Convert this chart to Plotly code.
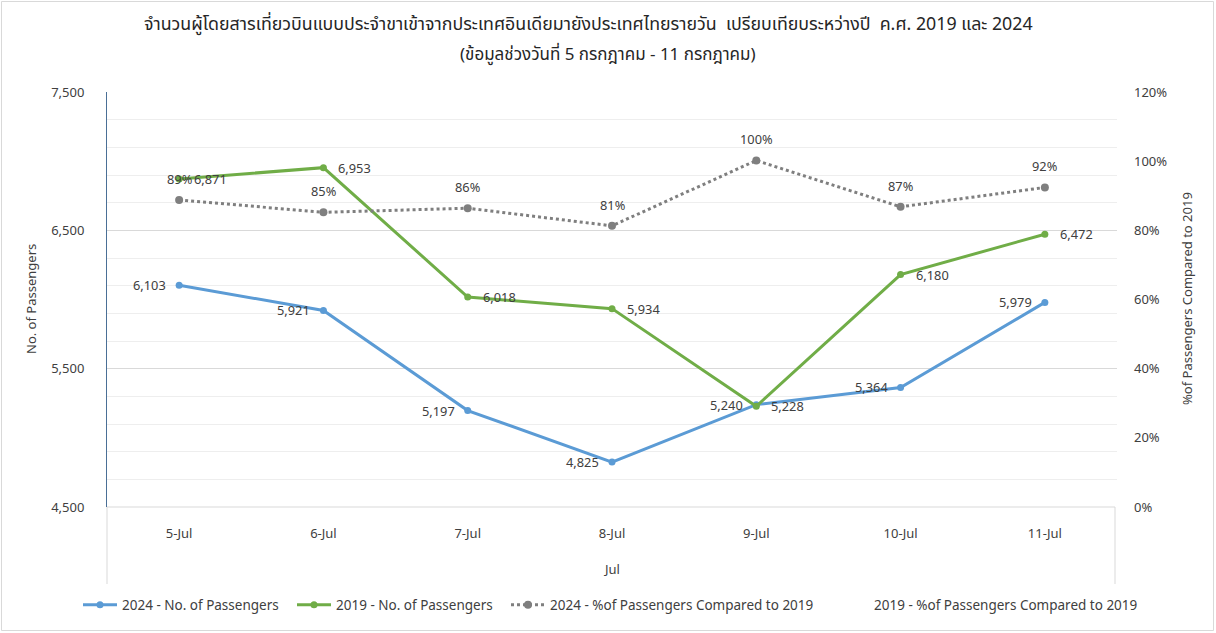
import plotly.graph_objects as go

days = ["5-Jul", "6-Jul", "7-Jul", "8-Jul", "9-Jul", "10-Jul", "11-Jul"]
pax_2024 = [6103, 5921, 5197, 4825, 5240, 5364, 5979]
pax_2019 = [6871, 6953, 6018, 5934, 5228, 6180, 6472]
pct_2024 = [0.888, 0.852, 0.864, 0.813, 1.002, 0.868, 0.924]
pct_2019 = [None] * 7

title1 = "จำนวนผู้โดยสารเที่ยวบินแบบประจำขาเข้าจากประเทศอินเดียมายังประเทศไทยรายวัน  เปรียบเทียบระหว่างปี  ค.ศ. 2019 และ 2024"
title2 = "(ข้อมูลช่วงวันที่ 5 กรกฎาคม - 11 กรกฎาคม)"

FONT = "Noto Sans, DejaVu Sans, sans-serif"
TFONT = "Liberation Sans Narrow, Noto Sans Thai, Noto Sans, sans-serif"
TXT = "#404040"

# plot-area geometry (px) for paper conversions
X0, X1, Y0, Y1 = 107, 1117, 92, 507
def px(x):
    return (x - X0) / (X1 - X0)
def py(y):
    return (Y1 - y) / (Y1 - Y0)

fig = go.Figure()
fig.add_trace(go.Scatter(
    x=days, y=pax_2024, name="2024 - No. of Passengers", mode="lines+markers",
    line=dict(color="#5B9BD5", width=3), marker=dict(size=7, color="#5B9BD5"),
    legendwidth=165))
fig.add_trace(go.Scatter(
    x=days, y=pax_2019, name="2019 - No. of Passengers", mode="lines+markers",
    line=dict(color="#70AD47", width=3), marker=dict(size=7, color="#70AD47"),
    legendwidth=165))
fig.add_trace(go.Scatter(
    x=days, y=pct_2024, name="2024 - %of Passengers Compared to 2019", mode="lines+markers",
    line=dict(color="#7F7F7F", width=3, dash="dot"), marker=dict(size=8, color="#7F7F7F"),
    yaxis="y2", legendwidth=275))
fig.add_trace(go.Scatter(
    x=days, y=pct_2019, name="2019 - %of Passengers Compared to 2019", mode="lines",
    line=dict(color="rgba(0,0,0,0)", width=0), yaxis="y2", legendwidth=280))

fig.update_layout(
    width=1216, height=633,
    margin=dict(l=X0, r=1216 - X1, t=Y0, b=633 - Y1),
    paper_bgcolor="white", plot_bgcolor="white",
    showlegend=True,
    legend=dict(orientation="h", x=px(78), y=py(605), xanchor="left", yanchor="middle",
                font=dict(family=TFONT, size=13.5, color=TXT), itemwidth=34,
                traceorder="normal", bgcolor="rgba(0,0,0,0)"),
    xaxis=dict(type="category", range=[-0.5, 6.5], showgrid=False, zeroline=False,
               showline=False, ticks="", ticklabelstandoff=17,
               tickfont=dict(family=FONT, size=13, color=TXT)),
    yaxis=dict(range=[4500, 7500], tick0=4500, dtick=1000, tickformat=",",
               showgrid=True, gridcolor="#D9D9D9", gridwidth=1,
               minor=dict(dtick=200, tick0=4500, showgrid=True, gridcolor="#EEEEEE", gridwidth=1),
               zeroline=False, showline=True, linecolor="#4A6F96", linewidth=1,
               ticks="", ticklabelstandoff=19,
               tickfont=dict(family=FONT, size=13, color=TXT)),
    yaxis2=dict(range=[0, 1.2], dtick=0.2, tickformat=".0%", overlaying="y", side="right",
                showgrid=False, zeroline=False, showline=False, ticks="",
                ticklabelstandoff=16,
                tickfont=dict(family=FONT, size=13, color=TXT)),
)

annotations = [
    dict(text=title1, x=px(588), y=py(25), font=dict(family=TFONT, size=17.8, color="#262626")),
    dict(text=title2, x=px(608), y=py(55), font=dict(family=TFONT, size=17, color="#262626")),
    dict(text="No. of Passengers", x=px(31), y=py(299), textangle=-90,
         font=dict(family=FONT, size=13, color=TXT)),
    dict(text="%of Passengers Compared to 2019", x=px(1187), y=py(299), textangle=-90,
         font=dict(family=FONT, size=13, color=TXT)),
    dict(text="Jul", x=px(611), y=py(569), font=dict(family=FONT, size=13, color=TXT)),
]
for a in annotations:
    a.update(xref="paper", yref="paper", showarrow=False, xanchor="center", yanchor="middle")

LBL = dict(family=FONT, size=12.8, color=TXT)
# 2024 passenger labels: left of points
for d, v in zip(days, pax_2024):
    annotations.append(dict(text=f"{v:,}", x=d, y=v, xref="x", yref="y", xshift=-11,
                            showarrow=False, xanchor="right", yanchor="middle", font=LBL))
# 2019 passenger labels: right of points
for d, v in zip(days, pax_2019):
    annotations.append(dict(text=f"{v:,}", x=d, y=v, xref="x", yref="y", xshift=13,
                            showarrow=False, xanchor="left", yanchor="middle", font=LBL))
# percent data labels above the dotted-line points
for d, v in zip(days, pct_2024):
    annotations.append(dict(text=f"{v:.0%}", x=d, y=v, xref="x", yref="y2", yshift=21,
                            showarrow=False, xanchor="center", yanchor="middle", font=LBL))
fig.update_layout(annotations=annotations)

shapes = [
    # category axis line and group separators
    dict(type="line", xref="paper", yref="paper", x0=0, x1=px(1115), y0=0, y1=0,
         line=dict(color="#D9D9D9", width=1)),
    dict(type="line", xref="paper", yref="paper", x0=0, x1=0, y0=0, y1=py(584),
         line=dict(color="#D9D9D9", width=1)),
    dict(type="line", xref="paper", yref="paper", x0=px(1115), x1=px(1115), y0=0, y1=py(584),
         line=dict(color="#D9D9D9", width=1)),
    # outer chart border
    dict(type="rect", xref="paper", yref="paper", x0=px(1.5), x1=px(1213.5), y0=py(1.5), y1=py(630.5),
         line=dict(color="#D9D9D9", width=1), fillcolor="rgba(0,0,0,0)", layer="below"),
]
fig.update_layout(shapes=shapes)

fig.write_html("out.html")
